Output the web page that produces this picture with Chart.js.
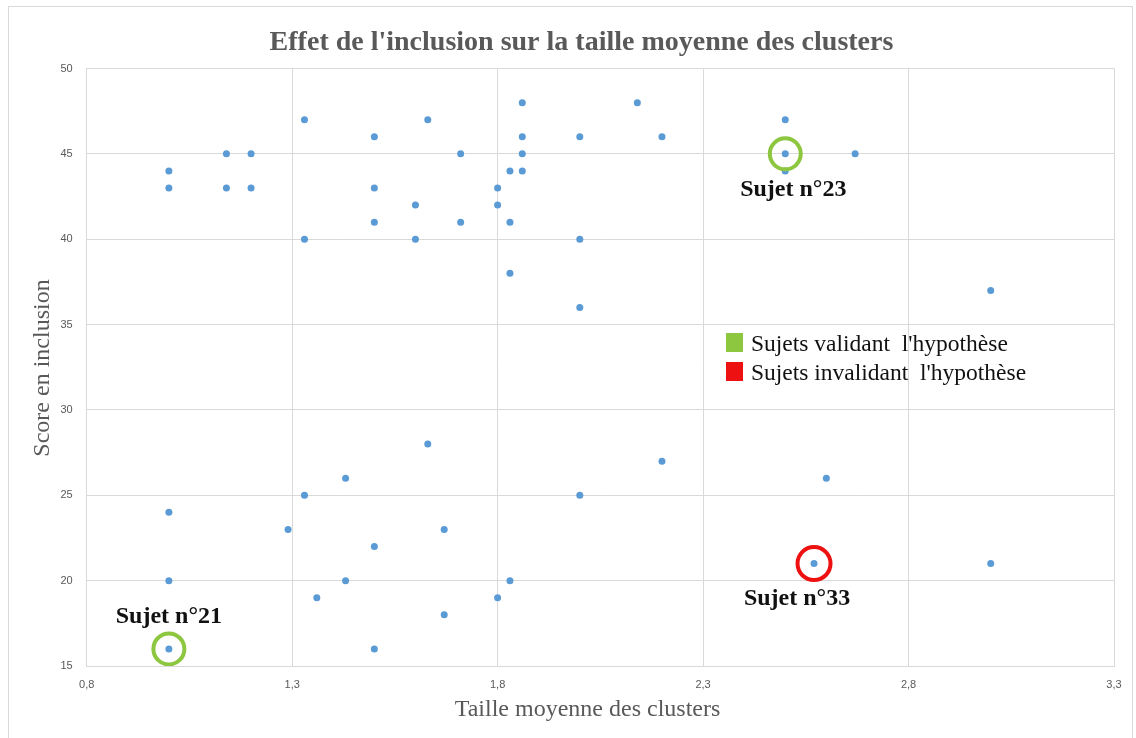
<!DOCTYPE html>
<html>
<head>
<meta charset="utf-8">
<script src="https://cdn.jsdelivr.net/npm/chart.js@4.4.1/dist/chart.umd.min.js"></script>
<style>
  html, body { margin: 0; padding: 0; background: #fff; }
  #wrap { width: 1136px; height: 738px; }
</style>
</head>
<body>
<div id="wrap"><canvas id="scatter" width="1136" height="738"></canvas></div>
<script>
// mean cluster size (x) and inclusion score (y), one entry per subject
const clusterSize = [
  1.0, 1.0, 1.14, 1.14, 1.2, 1.2, 1.33, 1.33, 1.5, 1.5, 1.5, 1.6, 1.6, 1.63, 1.71, 1.71,
  1.8, 1.8, 1.83, 1.83, 1.83, 1.86, 1.86, 1.86, 1.86, 2.0, 2.0, 2.0, 2.14, 2.2, 2.5, 2.5,
  2.5, 2.67, 3.0,
  1.0, 1.0, 1.0, 1.29, 1.33, 1.36, 1.43, 1.43, 1.5, 1.5, 1.63, 1.67, 1.67, 1.8, 1.83,
  2.0, 2.2, 2.6, 2.57, 3.0
];
const inclusionScore = [
  44, 43, 45, 43, 45, 43, 47, 40, 46, 43, 41, 42, 40, 47, 45, 41,
  43, 42, 44, 41, 38, 48, 46, 45, 44, 46, 40, 36, 48, 46, 47, 45,
  44, 45, 37,
  24, 20, 16, 23, 25, 19, 26, 20, 22, 16, 28, 23, 18, 19, 20,
  25, 27, 26, 21, 21
];

// highlighted subjects
const validX = [1.0, 2.5];
const validY = [16, 45];
const validNames = ['Sujet n°21', 'Sujet n°23'];
const invalidX = [2.57];
const invalidY = [21];
const invalidNames = ['Sujet n°33'];

const xTicks = [0.8, 1.3, 1.8, 2.3, 2.8, 3.3];
const yTicks = [15, 20, 25, 30, 35, 40, 45, 50];

const chartTitle = "Effet de l'inclusion sur la taille moyenne des clusters";
const xTitle = 'Taille moyenne des clusters';
const yTitle = 'Score en inclusion';

const toPoints = (xs, ys) => xs.map((x, i) => ({ x: x, y: ys[i] }));

const GREEN = '#8dc63f';
const RED = '#ee1111';
const GREY = '#595959';
const SERIF = '"Liberation Serif", "Times New Roman", serif';

// name label offsets from the circled point, in pixels
const nameOffsets = {
  'Sujet n°21': [0, -32],
  'Sujet n°23': [8, 36],
  'Sujet n°33': [-17, 35]
};

const decorPlugin = {
  id: 'decor',
  beforeDraw(chart) {
    const ctx = chart.ctx;
    ctx.save();
    ctx.fillStyle = '#fff';
    ctx.fillRect(0, 0, chart.width, chart.height);
    ctx.strokeStyle = '#d9d9d9';
    ctx.lineWidth = 1;
    ctx.strokeRect(8.5, 6.5, 1124, 760);
    ctx.restore();
  },
  afterDraw(chart) {
    const ctx = chart.ctx;
    const xs = chart.scales.x, ys = chart.scales.y;
    ctx.save();

    // title
    ctx.fillStyle = GREY;
    ctx.textAlign = 'center';
    ctx.textBaseline = 'middle';
    ctx.font = 'bold 28px ' + SERIF;
    ctx.fillText(chartTitle, 581.5, 43);

    // axis titles
    ctx.font = '24px ' + SERIF;
    ctx.fillText(xTitle, 587.5, 710);
    ctx.save();
    ctx.translate(43, 368);
    ctx.rotate(-Math.PI / 2);
    ctx.fillText(yTitle, 0, 0);
    ctx.restore();

    // subject names
    ctx.fillStyle = '#111';
    ctx.font = 'bold 24px ' + SERIF;
    const names = validNames.concat(invalidNames);
    const px = validX.concat(invalidX), py = validY.concat(invalidY);
    names.forEach((n, i) => {
      const off = nameOffsets[n];
      ctx.fillText(n, xs.getPixelForValue(px[i]) + off[0], ys.getPixelForValue(py[i]) + off[1]);
    });

    // legend
    const lx = 726, ly = 333;
    ctx.textAlign = 'left';
    ctx.font = '23.5px ' + SERIF;
    chart.data.datasets.slice(0, 2).forEach((ds, i) => {
      ctx.fillStyle = ds.borderColor;
      ctx.fillRect(lx, ly + i * 29, 17, 19);
      ctx.fillStyle = '#111';
      ctx.fillText(ds.label, lx + 25, ly + i * 29 + 12);
    });
    ctx.restore();
  }
};

new Chart(document.getElementById('scatter').getContext('2d'), {
  type: 'scatter',
  data: {
    datasets: [
      {
        label: "Sujets validant  l'hypothèse",
        data: toPoints(validX, validY),
        pointRadius: 15.5,
        pointBorderWidth: 4,
        borderColor: GREEN,
        backgroundColor: 'rgba(0,0,0,0)',
        order: 0
      },
      {
        label: "Sujets invalidant  l'hypothèse",
        data: toPoints(invalidX, invalidY),
        pointRadius: 16.5,
        pointBorderWidth: 4,
        borderColor: RED,
        backgroundColor: 'rgba(0,0,0,0)',
        order: 0
      },
      {
        label: 'Sujets',
        data: toPoints(clusterSize, inclusionScore),
        pointRadius: 3.5,
        pointBorderWidth: 0,
        backgroundColor: '#5b9bd5',
        borderColor: '#5b9bd5',
        order: 1
      }
    ]
  },
  options: {
    responsive: false,
    animation: false,
    layout: { padding: { left: 0, right: 22, top: 68.5, bottom: 0 } },
    plugins: {
      legend: { display: false },
      title: { display: false },
      tooltip: { enabled: false }
    },
    scales: {
      x: {
        type: 'linear',
        min: 0.8,
        max: 3.3,
        afterBuildTicks: (s) => { s.ticks = xTicks.map(v => ({ value: v })); },
        afterFit: (s) => { s.height = 72; },
        grid: { color: '#d9d9d9', drawTicks: false },
        border: { color: '#d9d9d9' },
        ticks: {
          padding: 12,
          color: GREY,
          font: { family: '"Liberation Sans", Arial, sans-serif', size: 11 },
          callback: (v) => v.toFixed(1).replace('.', ',')
        }
      },
      y: {
        type: 'linear',
        min: 15,
        max: 50,
        afterBuildTicks: (s) => { s.ticks = yTicks.map(v => ({ value: v })); },
        afterFit: (s) => { s.width = 86.7; },
        grid: { color: '#d9d9d9', drawTicks: false },
        border: { color: '#d9d9d9' },
        ticks: {
          padding: 14,
          color: GREY,
          font: { family: '"Liberation Sans", Arial, sans-serif', size: 11 }
        }
      }
    }
  },
  plugins: [decorPlugin]
});
</script>
</body>
</html>
